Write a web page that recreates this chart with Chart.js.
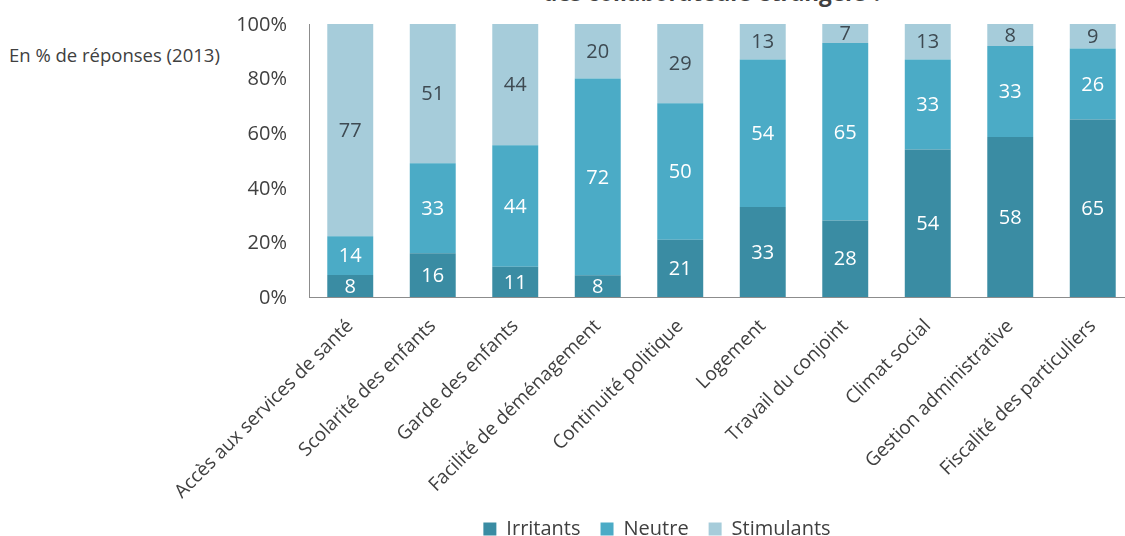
<!DOCTYPE html>
<html>
<head>
<meta charset="utf-8">
<script src="https://cdn.jsdelivr.net/npm/chart.js@4/dist/chart.umd.min.js"></script>
<style>
  html, body { margin: 0; padding: 0; background: #fff; width: 1125px; height: 536px; overflow: hidden; position: relative; }
  #title { position: absolute; left: 543px; top: -17px; font: 700 22.5px/20px "Open Sans", sans-serif; color: #404040; white-space: nowrap; }
  #note { position: absolute; left: 9px; top: 44px; font: 400 18.5px/22px "Open Sans", sans-serif; color: #404040; white-space: nowrap; }
  #wrap { position: absolute; left: 140px; top: 0; width: 1034px; height: 549px; }
</style>
</head>
<body>
<div id="title">des collaborateurs étrangers ?</div>
<div id="note">En % de réponses (2013)</div>
<div id="wrap"><canvas id="c" width="1034" height="549"></canvas></div>
<script>
const categories = [
  "Accès aux services de santé", "Scolarité des enfants", "Garde des enfants",
  "Facilité de déménagement", "Continuité politique", "Logement",
  "Travail du conjoint", "Climat social", "Gestion administrative",
  "Fiscalité des particuliers"
];
const irritants  = [8, 16, 11, 8, 21, 33, 28, 54, 58, 65];
const neutre     = [14, 33, 44, 72, 50, 54, 65, 33, 33, 26];
const stimulants = [77, 51, 44, 20, 29, 13, 7, 13, 8, 9];
const seriesNames = ["Irritants", "Neutre", "Stimulants"];
const yTicks = [0, 20, 40, 60, 80, 100];

const colors = ["#3A8CA3", "#4BABC6", "#A6CCDA"];
const labelColors = ["#FFFFFF", "#FFFFFF", "#3E4A52"];

const raw = [irritants, neutre, stimulants];
const totals = categories.map((_, i) => irritants[i] + neutre[i] + stimulants[i]);
const pct = arr => arr.map((v, i) => v / totals[i] * 100);

const valueLabels = {
  id: 'valueLabels',
  afterDatasetsDraw(chart) {
    const ctx = chart.ctx;
    ctx.save();
    ctx.font = '400 20px "Open Sans", sans-serif';
    ctx.textAlign = 'center';
    ctx.textBaseline = 'middle';
    chart.data.datasets.forEach((ds, di) => {
      const meta = chart.getDatasetMeta(di);
      ctx.fillStyle = labelColors[di];
      meta.data.forEach((bar, j) => {
        const p = bar.getProps(['x', 'y', 'base'], true);
        ctx.fillText(String(raw[di][j]), p.x, (p.y + p.base) / 2 + 1);
      });
    });
    ctx.restore();
  }
};

const PAD_SIDE = 40;
const CHART_LEFT = 169;
const CHART_TOP = 24;
const CHART_BOTTOM = 297;
const CANVAS_H = 549;
const LEGEND_FONT = 20;
const LEGEND_PAD = 20;

new Chart(document.getElementById('c'), {
  type: 'bar',
  data: {
    labels: categories,
    datasets: seriesNames.map((n, i) => ({
      label: n,
      data: pct(raw[i]),
      backgroundColor: colors[i],
      borderWidth: 0,
      barPercentage: 0.557,
      categoryPercentage: 1.0
    }))
  },
  options: {
    responsive: false,
    animation: false,
    layout: { padding: { left: PAD_SIDE, right: PAD_SIDE, top: CHART_TOP, bottom: 0 } },
    plugins: {
      legend: {
        position: 'bottom',
        labels: {
          boxWidth: 13, boxHeight: 13, padding: LEGEND_PAD,
          color: '#404040',
          font: { family: '"Open Sans", sans-serif', size: LEGEND_FONT }
        }
      },
      title: { display: false },
      tooltip: { enabled: false }
    },
    scales: {
      x: {
        stacked: true,
        grid: { display: false, drawTicks: false },
        border: { display: true, color: '#8C8C8C', width: 1 },
        ticks: {
          maxRotation: 45, minRotation: 45, autoSkip: false, padding: 18,
          color: '#404040',
          font: { family: '"Open Sans", sans-serif', size: 19 }
        },
        afterFit(scale) {
          scale.height = CANVAS_H - (LEGEND_FONT + LEGEND_PAD + 10) - CHART_BOTTOM;
        }
      },
      y: {
        stacked: true,
        min: 0, max: 100,
        grid: { display: false, drawTicks: false },
        border: { display: true, color: '#8C8C8C', width: 1 },
        afterBuildTicks(scale) { scale.ticks = yTicks.map(v => ({ value: v })); },
        ticks: {
          padding: 22,
          labelOffset: 1,
          color: '#404040',
          font: { family: '"Open Sans", sans-serif', size: 20 },
          callback: v => v + '%'
        },
        afterFit(scale) {
          scale.width = CHART_LEFT - PAD_SIDE;
          scale.paddingTop = 0;
          scale.paddingBottom = 0;
        }
      }
    }
  },
  plugins: [valueLabels]
});
</script>
</body>
</html>
